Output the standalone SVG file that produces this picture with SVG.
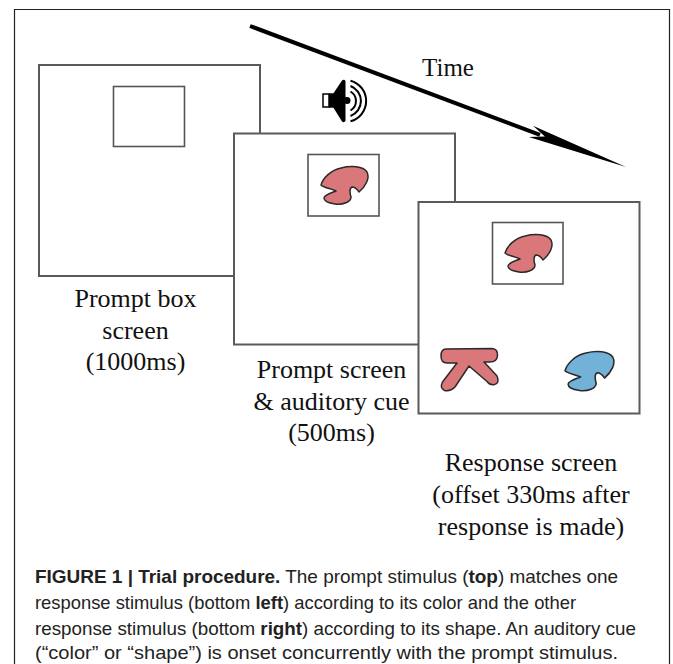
<svg xmlns="http://www.w3.org/2000/svg" xmlns:xlink="http://www.w3.org/1999/xlink" width="673" height="664" viewBox="0 0 673 664">
<style>
.screen{fill:#fff;stroke:#5a5a5a;stroke-width:2}
.box{fill:none;stroke:#555;stroke-width:1.6}
.lbl{font-family:"Liberation Serif","Times New Roman",serif;font-size:26px;fill:#111;text-anchor:middle}
.cap{font-family:"Liberation Sans",Arial,sans-serif;font-size:18.5px;fill:#222}
.red{fill:#d9777b;stroke:#2a2a2a;stroke-width:1.5;stroke-linejoin:round}
.blue{fill:#72b2d8;stroke:#2a2a2a;stroke-width:1.5;stroke-linejoin:round}
.arc{fill:none;stroke:#000;stroke-width:2}
</style>
<defs>
<path id="sshape" d="M 0,19 C 2,12 10,4 20,2 C 30,-0.5 42,0 46,6 C 49,12 45,20 38,26 C 36,23 33.5,21 31,21 C 28,22 29,28 30,31 C 30,36 22,39 14,38 C 7,37 3,35 3,32 C 3,29 10,27 15,25 C 9,22 3,22 0,19 Z"/>
</defs>
<rect x="0" y="0" width="673" height="664" fill="#fff"/>
<path d="M 14.5,700 L 14.5,9.5 L 669.5,9.5 L 669.5,700" fill="none" stroke="#222" stroke-width="1.2"/>

<g id="frame1">
<rect class="screen" x="39" y="65" width="221" height="211"/>
<rect class="box" x="113.5" y="86.5" width="71" height="60"/>
</g>
<g id="frame2">
<rect class="screen" x="234" y="133.5" width="221" height="211"/>
<rect class="box" x="308" y="154.5" width="71" height="61.5"/>
<use xlink:href="#sshape" class="red" transform="translate(321,166)"/>
</g>
<g id="frame3">
<rect class="screen" x="418.5" y="202" width="221" height="211.5"/>
<rect class="box" x="492.5" y="222.5" width="70.5" height="61.5"/>
<use xlink:href="#sshape" class="red" transform="translate(505,234)"/>
<path class="red" d="M 446,349 L 492,348.5 Q 498,349 497.5,355.5 Q 497,362 490,362 L 484,362 L 497,376 Q 500,383 494.5,384.5 Q 490,385.5 487,381.5 L 469,366 L 455,387 Q 450,392 444.5,390.5 Q 439.5,388 442.5,382 L 457,363 L 447,363 Q 441,363 441,356 Q 441,349 446,349 Z"/>
<use xlink:href="#sshape" class="blue" transform="translate(565,351) scale(1.04)"/>
</g>

<g id="speaker">
<rect x="323" y="94" width="6" height="13" fill="#fff" stroke="#000" stroke-width="1.5"/>
<rect x="329" y="93.3" width="5" height="14.4" fill="#000"/>
<path d="M 333,94 L 342,80.5 Q 344,79 345.5,81 L 345.5,121 Q 344,123 342,121.5 L 333,107 Z" fill="#000"/>
<circle cx="347" cy="100.5" r="3.5" fill="#000"/>
<path class="arc" d="M 350.5,91.5 A 11 11 0 0 1 350.5,110.5"/>
<path class="arc" d="M 350.5,86 A 16 16 0 0 1 350.5,116"/>
<path class="arc" d="M 350.5,80.7 A 21 21 0 0 1 350.5,121.3"/>
</g>

<g id="connectors">
<line x1="250" y1="26" x2="540" y2="134.8" stroke="#000" stroke-width="4"/>
<path d="M 626,167 L 533,125.7 L 544.9,136.6 L 528.8,136.9 Z" fill="#000"/>
</g>
<text class="lbl" x="448" y="76" style="font-size:25px">Time</text>

<g id="labels">
<text class="lbl" x="135.5" y="307">Prompt box</text>
<text class="lbl" x="135.5" y="339">screen</text>
<text class="lbl" x="135.5" y="370">(1000ms)</text>
<text class="lbl" x="331.5" y="378">Prompt screen</text>
<text class="lbl" x="331.5" y="410">&amp; auditory cue</text>
<text class="lbl" x="331.5" y="441">(500ms)</text>
<text class="lbl" x="531" y="471">Response screen</text>
<text class="lbl" x="531" y="503">(offset 330ms after</text>
<text class="lbl" x="531" y="535">response is made)</text>
</g>

<g id="caption">
<text class="cap" x="35" y="583" textLength="583" lengthAdjust="spacingAndGlyphs"><tspan font-weight="bold">FIGURE 1 | Trial procedure.</tspan> The prompt stimulus (<tspan font-weight="bold">top</tspan>) matches one</text>
<text class="cap" x="35" y="609" textLength="541" lengthAdjust="spacingAndGlyphs">response stimulus (bottom <tspan font-weight="bold">left</tspan>) according to its color and the other</text>
<text class="cap" x="35" y="635" textLength="601" lengthAdjust="spacingAndGlyphs">response stimulus (bottom <tspan font-weight="bold">right</tspan>) according to its shape. An auditory cue</text>
<text class="cap" x="35" y="659" textLength="583" lengthAdjust="spacingAndGlyphs">(“color” or “shape”) is onset concurrently with the prompt stimulus.</text>
</g>
</svg>
